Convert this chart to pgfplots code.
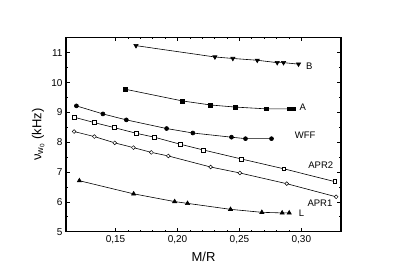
\documentclass[border=0pt]{standalone}
\usepackage{pgfplots}
\pgfplotsset{compat=1.18}
\usepackage{fontspec}
\setmainfont{Liberation Sans}
\begin{document}
\begin{tikzpicture}
\useasboundingbox (-66pt,-46.3pt) rectangle (327pt,231.7pt);
\begin{axis}[
  at={(0pt,0pt)}, anchor=south west,
  scale only axis, width=275pt, height=194.4pt,
  xmin=0.11, xmax=0.332, ymin=5, ymax=11.52,
  xtick={0.15,0.20,0.25,0.30}, minor x tick num=4,
  ytick={5,6,7,8,9,10,11}, minor y tick num=1,
  tick align=inside,
  major tick length=4pt, minor tick length=2.2pt,
  axis line style={line width=1.1pt},
  every tick/.style={black, line width=0.7pt},
  /pgf/number format/assume math mode=true,
  xticklabel style={/pgf/number format/.cd, use comma, fixed, fixed zerofill, precision=2},
  yticklabel style={/pgf/number format/.cd, fixed, precision=0},
  tick label style={font=\fontsize{10}{12}\selectfont},
  xlabel={M/R}, ylabel={ν\textsubscript{w\textsubscript{0}} (kHz)},
  label style={font=\fontsize{13}{15}\selectfont},
  xlabel style={yshift=-2pt},
  ylabel style={yshift=0pt},
  every axis plot/.append style={black, line width=0.6pt},
  clip=false,
]
% B
\addplot[mark=triangle*, mark options={rotate=180, scale=1.0}, mark size=2.4pt] coordinates {
(0.1665,11.24) (0.2302,10.86) (0.2447,10.81) (0.2644,10.75) (0.2805,10.67) (0.2856,10.67) (0.2977,10.62)};
% A
\addplot[mark=square*, mark size=1.9pt] coordinates {
(0.1576,9.78) (0.2039,9.386) (0.2267,9.25) (0.2466,9.18) (0.2716,9.12) (0.2905,9.12) (0.2935,9.12)};
% WFF
\addplot[mark=*, mark size=2pt] coordinates {
(0.1184,9.22) (0.1398,8.95) (0.1587,8.75) (0.1912,8.46) (0.2124,8.31) (0.2436,8.17) (0.2549,8.12) (0.2759,8.12)};
% APR2
\addplot[mark=square*, mark options={fill=white, line width=0.5pt}, mark size=1.9pt] coordinates {
(0.1165,8.84) (0.1329,8.66) (0.149,8.49) (0.1668,8.30) (0.1813,8.17) (0.2025,7.93) (0.2210,7.74) (0.2515,7.44) (0.2858,7.11) (0.3269,6.68)};
% APR1
\addplot[mark=*, mark options={fill=white, line width=0.5pt}, mark size=1.9pt] coordinates {
(0.1165,8.36) (0.1329,8.19) (0.1493,7.98) (0.1644,7.82) (0.1789,7.66) (0.1926,7.54) (0.2267,7.17) (0.2503,6.97) (0.2882,6.61) (0.3281,6.17)};
% L
\addplot[mark=triangle*, mark size=2.4pt] coordinates {
(0.1208,6.71) (0.1646,6.27) (0.1977,6.01) (0.2081,5.95) (0.2428,5.75) (0.2681,5.65) (0.2845,5.63) (0.2902,5.63)};
\node[font=\fontsize{9.5}{11}\selectfont] at (axis cs:0.3065,10.56) {B};
\node[font=\fontsize{9.5}{11}\selectfont] at (axis cs:0.3011,9.16) {A};
\node[font=\fontsize{9.5}{11}\selectfont] at (axis cs:0.3031,8.24) {WFF};
\node[font=\fontsize{9.5}{11}\selectfont] at (axis cs:0.3157,7.24) {APR2};
\node[font=\fontsize{9.5}{11}\selectfont] at (axis cs:0.3150,5.97) {APR1};
\node[font=\fontsize{9.5}{11}\selectfont] at (axis cs:0.3001,5.62) {L};
\end{axis}
\end{tikzpicture}
\end{document}
